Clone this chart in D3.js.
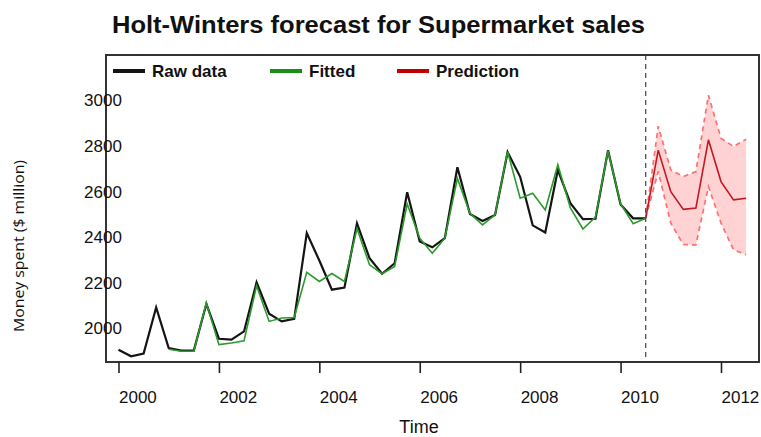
<!DOCTYPE html>
<html>
<head>
<meta charset="utf-8">
<script src="https://cdn.jsdelivr.net/npm/d3@7"></script>
<style>
  html, body { margin: 0; padding: 0; background: #fff; }
  svg { display: block; }
</style>
</head>
<body>
<svg id="chart" width="761" height="437"></svg>
<script>
// ---- data (quarterly, starting 2000 Q1) ----
const startYear = 2000;
const rawData = [1905, 1876, 1888, 2090, 1912, 1901, 1901, 2106, 1953, 1949, 1985, 2200,
  2063, 2029, 2040, 2416, 2296, 2168, 2177, 2459, 2306, 2238, 2284, 2595,
  2379, 2354, 2394, 2705, 2500, 2469, 2496, 2771, 2663, 2450, 2419, 2693,
  2547, 2477, 2479, 2779, 2542, 2481, 2481];
const fittedStart = 4; // fitted values begin one year in
const fittedData = [1907, 1898, 1898, 2110, 1927, 1934, 1944, 2185, 2029, 2044, 2046,
  2244, 2204, 2239, 2204, 2436, 2277, 2238, 2270, 2544, 2394, 2328, 2394, 2656,
  2503, 2452, 2496, 2773, 2569, 2591, 2518, 2716, 2527, 2434, 2486, 2776, 2545, 2457, 2481];
const predStart = 42; // index of 2010 Q3
const predFit = [2481, 2780, 2598, 2520, 2526, 2825, 2642, 2562, 2569];
const predUpper = [2481, 2885, 2693, 2664, 2686, 3021, 2832, 2796, 2828];
const predLower = [2481, 2686, 2460, 2366, 2364, 2620, 2460, 2343, 2321];
const xTicks = [2000, 2002, 2004, 2006, 2008, 2010, 2012];
const yTicks = [2000, 2200, 2400, 2600, 2800, 3000];
const legendLabels = ["Raw data", "Fitted", "Prediction"];
const titleText = "Holt-Winters forecast for Supermarket sales";
const xTitle = "Time";
const yTitle = "Money spent ($ million)";

// ---- layout ----
const svg = d3.select("#chart");
const box = { left: 106, right: 759, top: 55, bottom: 362 };
const x = d3.scaleLinear().domain([1999.751, 2012.757]).range([box.left, box.right]);
const y = d3.scaleLinear().domain([1851, 3197]).range([box.bottom, box.top]);
const t = i => startYear + i / 4;

const colRaw = "#141414", colFit = "#2a9a2a", colPred = "#c01820";
const font = "'Liberation Sans', Arial, sans-serif";

// title
svg.append("text").attr("x", 378.5).attr("y", 33)
  .attr("text-anchor", "middle")
  .attr("font-family", font).attr("font-weight", "bold").attr("font-size", 24)
  .attr("textLength", 533).attr("lengthAdjust", "spacingAndGlyphs")
  .attr("fill", "#111").text(titleText);

// prediction band
const predPts = predFit.map((v, i) => ({ t: t(predStart + i), fit: v, up: predUpper[i], lo: predLower[i] }));
svg.append("path").datum(predPts)
  .attr("d", d3.area().x(d => x(d.t)).y0(d => y(d.lo)).y1(d => y(d.up)))
  .attr("fill", "#ffd3d3").attr("stroke", "none");
["up", "lo"].forEach(k => {
  svg.append("path").datum(predPts)
    .attr("d", d3.line().x(d => x(d.t)).y(d => y(d[k])))
    .attr("fill", "none").attr("stroke", "#ff7070").attr("stroke-width", 1.7)
    .attr("stroke-dasharray", "5,4");
});

// raw data
svg.append("path").datum(rawData.map((v, i) => [t(i), v]))
  .attr("d", d3.line().x(d => x(d[0])).y(d => y(d[1])))
  .attr("fill", "none").attr("stroke", colRaw).attr("stroke-width", 2.2)
  .attr("stroke-linejoin", "miter");

// fitted
svg.append("path").datum(fittedData.map((v, i) => [t(fittedStart + i), v]))
  .attr("d", d3.line().x(d => x(d[0])).y(d => y(d[1])))
  .attr("fill", "none").attr("stroke", colFit).attr("stroke-width", 1.6);

// prediction
svg.append("path").datum(predPts)
  .attr("d", d3.line().x(d => x(d.t)).y(d => y(d.fit)))
  .attr("fill", "none").attr("stroke", colPred).attr("stroke-width", 1.6);

// vertical dashed separator
svg.append("line")
  .attr("x1", x(t(predStart))).attr("x2", x(t(predStart)))
  .attr("y1", box.top).attr("y2", box.bottom)
  .attr("stroke", "#555").attr("stroke-width", 1.3).attr("stroke-dasharray", "5,4");

// box
svg.append("rect").attr("x", box.left).attr("y", box.top)
  .attr("width", box.right - box.left).attr("height", box.bottom - box.top)
  .attr("fill", "none").attr("stroke", "#333").attr("stroke-width", 2);

// x axis
const xAxis = d3.axisBottom(x).tickValues(xTicks).tickFormat(d3.format("d"))
  .tickSize(11).tickSizeOuter(0);
const gx = svg.append("g").attr("transform", `translate(0,${box.bottom})`).call(xAxis);
gx.select(".domain").remove();
gx.selectAll(".tick line").attr("stroke", "#222").attr("stroke-width", 1.6);
gx.selectAll(".tick text")
  .attr("text-anchor", "start").attr("dy", 0).attr("y", 41).attr("x", 0)
  .attr("font-family", font).attr("font-size", 17).attr("fill", "#111");

// y axis (labels straddle the frame line)
const yAxis = d3.axisLeft(y).tickValues(yTicks).tickFormat(d3.format("d")).tickSize(0);
const gy = svg.append("g").attr("transform", `translate(${box.left},0)`).call(yAxis);
gy.select(".domain").remove();
gy.selectAll(".tick text")
  .attr("text-anchor", "middle").attr("x", -3).attr("dy", "0.35em")
  .attr("font-family", font).attr("font-size", 17).attr("fill", "#111");

// axis titles
svg.append("text").attr("x", 419).attr("y", 433).attr("text-anchor", "middle")
  .attr("font-family", font).attr("font-size", 18).attr("fill", "#111").text(xTitle);
svg.append("text").attr("transform", "translate(24,246) rotate(-90)")
  .attr("text-anchor", "middle")
  .attr("font-family", "'Open Sans', 'Noto Sans', sans-serif").attr("font-size", 15)
  .attr("textLength", 172).attr("lengthAdjust", "spacingAndGlyphs")
  .attr("fill", "#111").text(yTitle);

// legend
const legendX = [113, 270, 397];
const legendCols = [colRaw, "#1a8c1a", "#c00000"];
legendLabels.forEach((lab, i) => {
  const g = svg.append("g").attr("transform", `translate(${legendX[i]},71)`);
  g.append("line").attr("x1", 0).attr("x2", 32).attr("y1", 0).attr("y2", 0)
    .attr("stroke", legendCols[i]).attr("stroke-width", 4);
  g.append("text").attr("x", 39).attr("y", 6)
    .attr("font-family", font).attr("font-weight", "bold").attr("font-size", 17)
    .attr("fill", "#111").text(lab);
});
</script>
</body>
</html>
